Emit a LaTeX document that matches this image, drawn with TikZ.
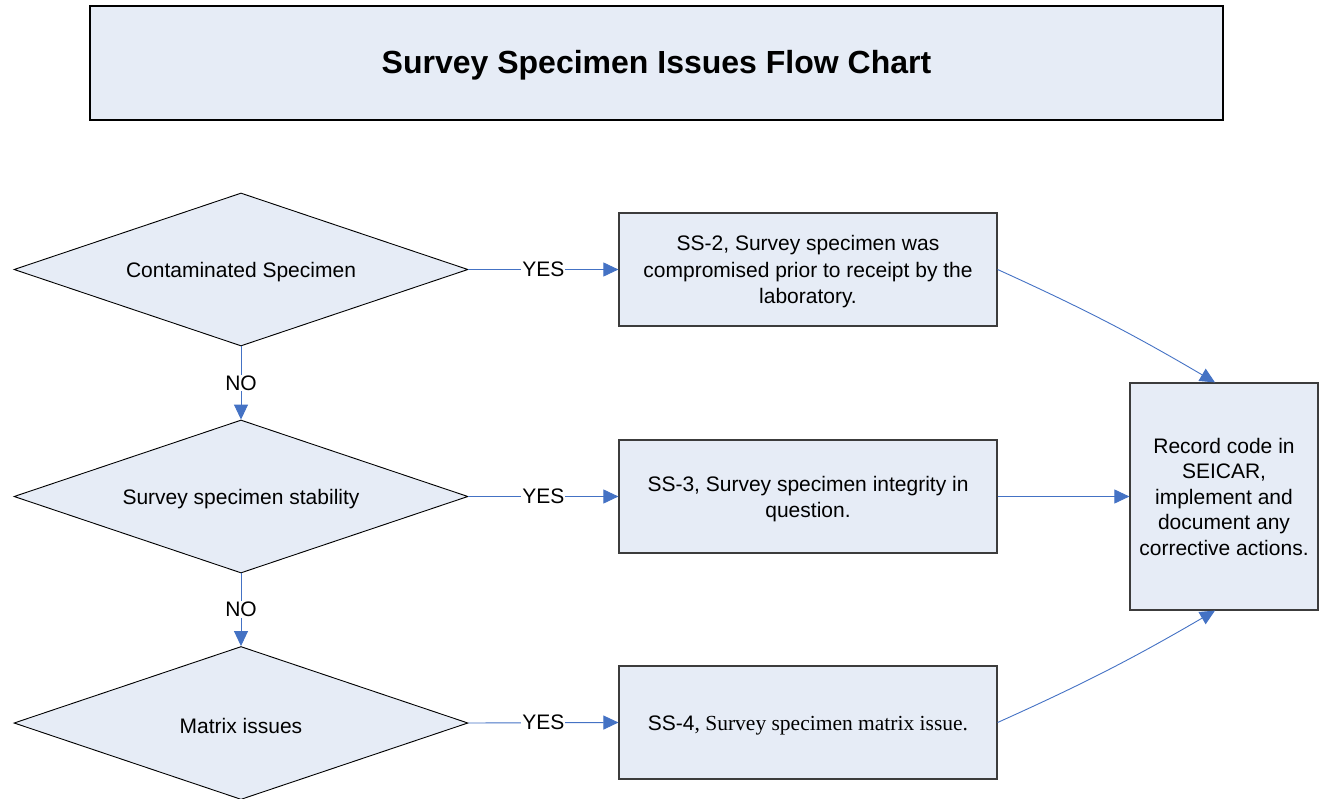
\documentclass[tikz,border=0pt]{standalone}
\usepackage{fontspec}
\setmainfont{Liberation Sans}
\newfontfamily\timesfont{Liberation Serif}
\usetikzlibrary{shapes.geometric,arrows.meta}
\definecolor{boxfill}{RGB}{230,236,246}
\definecolor{linkblue}{RGB}{68,114,196}
\definecolor{edgegray}{RGB}{60,60,60}
% lower a block of text slightly without changing its size
\newcommand{\dropped}[1]{\raisebox{-2.5pt}[\height][\depth]{#1}}
\tikzset{
  txt/.style={font=\fontsize{21}{26.5}\selectfont, align=center, text=black},
  decision/.style={shape=diamond, aspect=2.967, draw=black, line width=0.9pt, fill=boxfill,
    minimum width=454pt, minimum height=153pt, inner sep=0pt, txt},
  process/.style={shape=rectangle, draw=edgegray, line width=1.2pt, fill=boxfill,
    minimum width=378pt, minimum height=113pt, inner sep=0pt, txt},
  conn/.style={draw=linkblue, line width=0.9pt,
    -{Triangle[length=15pt,width=14pt,fill=linkblue]}},
  lbl/.style={fill=white, inner sep=1pt, txt}
}
\begin{document}
\begin{tikzpicture}[x=1pt,y=-1pt]
\useasboundingbox (0,0) rectangle (1321,799);

% title banner
\node[shape=rectangle, draw=black, line width=1.1pt, fill=boxfill,
  minimum width=1133pt, minimum height=114pt, inner sep=0pt,
  font=\fontsize{32}{38}\selectfont\bfseries] (title) at (656.5,63)
  {\dropped{Survey Specimen Issues Flow Chart}};

% decisions
\node[decision] (dcont) at (241,269.5) {\dropped{Contaminated Specimen}};
\node[decision] (dstab) at (241,496.5) {\dropped{Survey specimen stability}};
\node[decision] (dmatr) at (241,723) {\dropped{Matrix issues}};

% outcome codes
\node[process] (ss2) at (808,269.5)
  {\dropped{\begin{tabular}{@{}c@{}}SS-2, Survey specimen was\\compromised prior to receipt by the\\laboratory.\end{tabular}}};
\node[process] (ss3) at (808,496.5)
  {\dropped{\begin{tabular}{@{}c@{}}SS-3, Survey specimen integrity in\\question.\end{tabular}}};
\node[process] (ss4) at (808,722.5)
  {\dropped{SS-4{\timesfont\fontsize{21.5}{26.5}\selectfont, Survey specimen matrix issue.}}};

% final action
\node[process, minimum width=188pt, minimum height=227pt] (rec) at (1224,496.5)
  {\dropped{\fontsize{21}{25.5}\selectfont\begin{tabular}{@{}c@{}}Record code in\\SEICAR,\\implement and\\document any\\corrective actions.\end{tabular}}};

% yes branches
\draw[conn] (dcont.east) -- node[lbl] {YES} (ss2.west);
\draw[conn] (dstab.east) -- node[lbl] {YES} (ss3.west);
\draw[conn] (dmatr.east) -- node[lbl] {YES} (ss4.west);

% no branches
\draw[conn] (dcont.south) -- node[lbl] {NO} (dstab.north);
\draw[conn] (dstab.south) -- node[lbl] {NO} (dmatr.north);

% into the record box
\draw[conn] (ss2.east) to[bend left=3] ([xshift=-9pt]rec.north);
\draw[conn] (ss3.east) -- (rec.west);
\draw[conn] (ss4.east) to[bend right=3] ([xshift=-9pt]rec.south);
\end{tikzpicture}
\end{document}
